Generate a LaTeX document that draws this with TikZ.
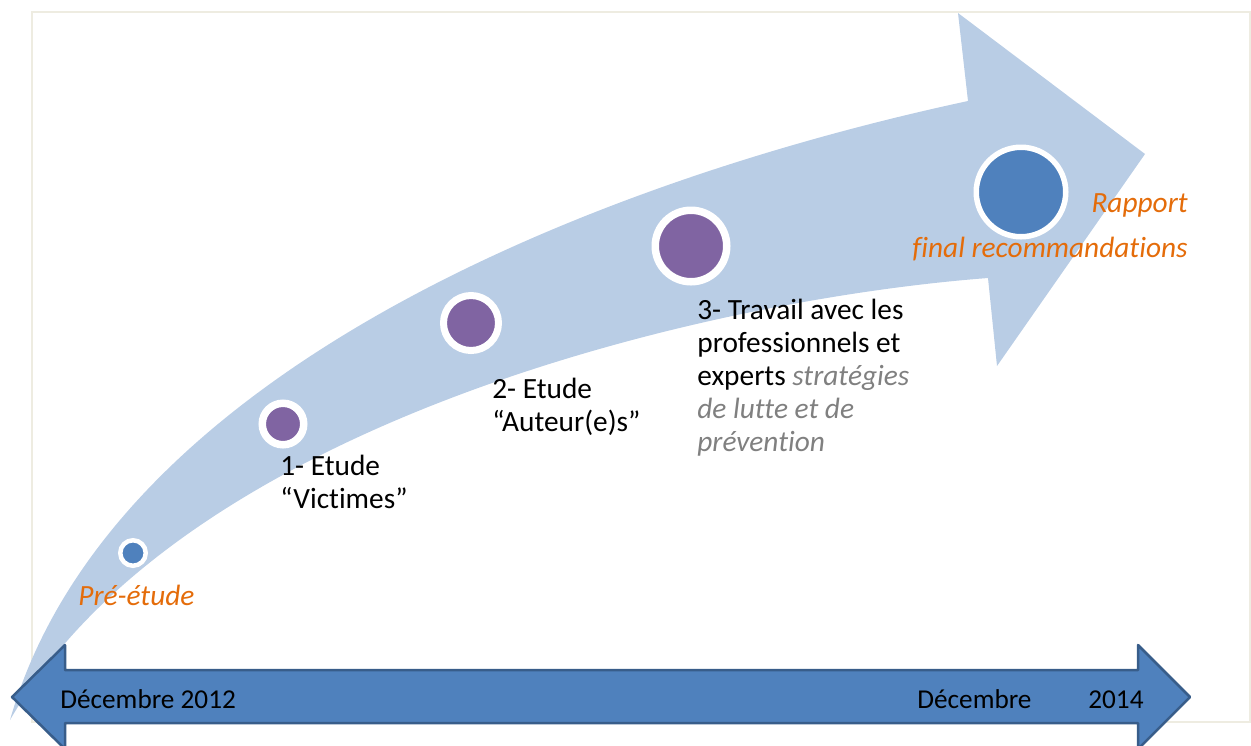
\documentclass[tikz,border=0pt]{standalone}
\usepackage{fontspec}
\setmainfont{Carlito}[Ligatures={NoCommon,NoContextual}]
\usepackage{xcolor}
\usetikzlibrary{shadows}
\definecolor{C0}{RGB}{79,129,189}
\definecolor{C1}{RGB}{128,100,162}
\definecolor{C2}{RGB}{185,205,229}
\definecolor{C3}{RGB}{56,93,138}
\definecolor{C4}{RGB}{228,108,10}
\definecolor{C5}{RGB}{238,236,225}
\newcommand{\pxu}{0.02cm}

\begin{document}
\begin{tikzpicture}[x=\pxu,y=-\pxu,
  milestone/.style n args={3}{circle,inner sep=0pt,fill=#1,draw=white,
    minimum size=#2*\pxu,line width=#3*\pxu,
    drop shadow={opacity=0.2,shadow xshift=0.6pt,shadow yshift=-1.2pt}},
  stagetext/.style={anchor=north west,inner sep=0pt,align=left,
    font=\fontsize{16.7}{18.7}\selectfont},
  datetext/.style={anchor=base west,inner sep=0pt,
    font=\fontsize{15.5}{18}\selectfont}]

  \useasboundingbox (0,0) rectangle (1251,745);

  % Frame.
  \draw[C5,line width=2*\pxu] (32,12) rectangle (1250,722);

  % Curved arrow.
  \fill[C2] (10,720) .. controls (110,370) and (600,180) .. (968,101)
    -- (958,13) -- (1145,154) -- (997,366) -- (988,278)
    .. controls (700,300) and (180,425) .. (10,720) -- cycle;

  % Stages on the arrow.
  \node (pre) [milestone={C0}{25.5}{4.5}] at (133,553) {};
  \node (victimes) [milestone={C1}{41.5}{7.5}] at (283,424) {};
  \node (auteurs) [milestone={C1}{55}{7}] at (471,323) {};
  \node (travail) [milestone={C1}{71.5}{7.5}] at (691,246) {};
  \node (rapport) [milestone={C0}{89.5}{5.5}] at (1021,192) {};

  \node (pretext) [datetext,font=\fontsize{16.7}{18.7}\selectfont\itshape,text=C4]
    at (78,605) {Pré-étude};
  \node (victimestext) [stagetext] at (280,455) {1- Etude\\“Victimes”};
  \node (auteurstext) [stagetext] at (492,378) {2- Etude\\“Auteur(e)s”};
  \node (travailtext) [stagetext] at (697,299)
    {3- Travail avec les\\professionnels et\\experts \textcolor{gray}{\itshape stratégies}\\
     \textcolor{gray}{\itshape de lutte et de}\\\textcolor{gray}{\itshape prévention}};
  \node (rapporttext) [anchor=base east,inner sep=0pt,text=C4,
    font=\fontsize{16.7}{18.7}\selectfont\itshape] at (1188,212) {Rapport};
  \node (finaltext) [anchor=base east,inner sep=0pt,text=C4,
    font=\fontsize{16.7}{18.7}\selectfont\itshape] at (1188,257) {final recommandations};

  % Time line.
  \draw[C3,fill=C0,line width=2.5*\pxu,line join=round] (12,697) -- (65,645) -- (65,670)
    -- (1138,670) -- (1138,645) -- (1190,697) -- (1138,749) -- (1138,723)
    -- (65,723) -- (65,749) -- cycle;
  \node (start) [datetext] at (60,708) {Décembre 2012};
  \node (endmonth) [datetext] at (917,708) {Décembre};
  \node (endyear) [datetext] at (1088,708) {2014};

\end{tikzpicture}
\end{document}
